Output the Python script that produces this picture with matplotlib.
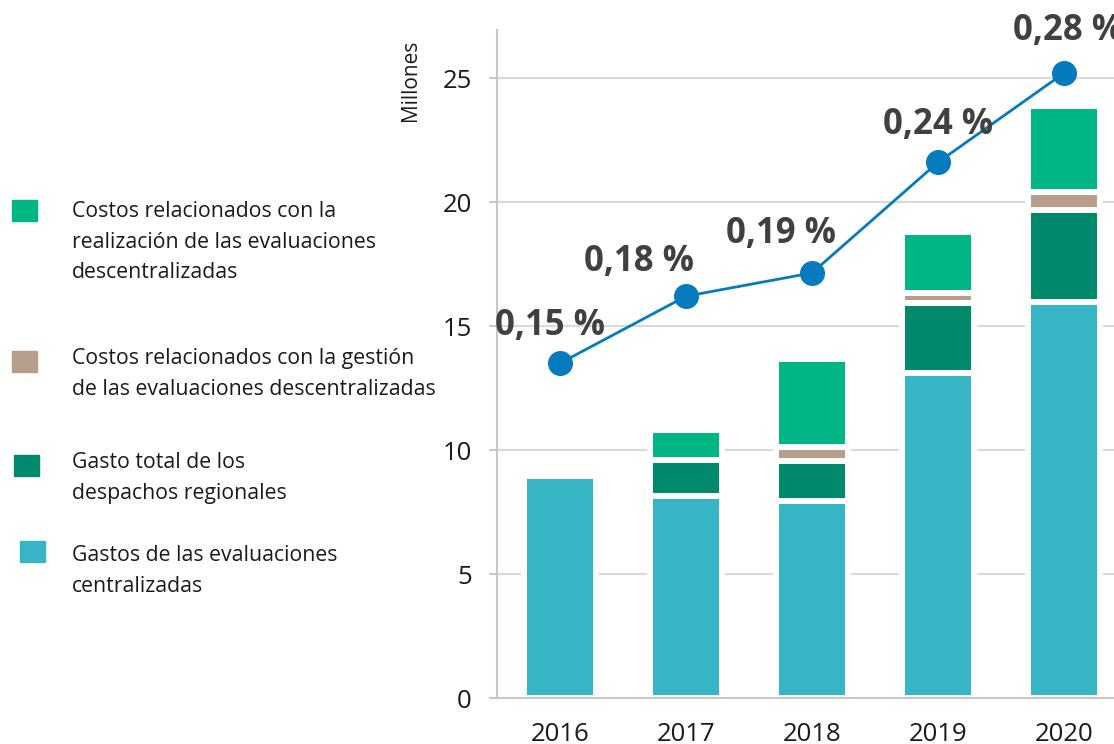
import numpy as np
import matplotlib.pyplot as plt
from matplotlib.patches import Rectangle

# data (millones)
years = ["2016", "2017", "2018", "2019", "2020"]
centralizadas = [8.97, 8.16, 7.96, 13.1, 15.96]
regionales = [0.0, 1.45, 1.6, 2.83, 3.72]
gestion = [0.0, 0.0, 0.58, 0.4, 0.71]
realizacion = [0.0, 1.2, 3.52, 2.46, 3.47]
line_vals = [13.5, 16.2, 17.14, 21.6, 25.2]
line_labels = ["0,15 %", "0,18 %", "0,19 %", "0,24 %", "0,28 %"]

legend_labels = [
    "Costos relacionados con la\nrealización de las evaluaciones\ndescentralizadas",
    "Costos relacionados con la gestión\nde las evaluaciones descentralizadas",
    "Gasto total de los\ndespachos regionales",
    "Gastos de las evaluaciones\ncentralizadas",
]

c_cent = "#37B5C5"
c_reg = "#00896A"
c_gest = "#B79E8B"
c_real = "#00B685"
c_line = "#067ABE"
grid_c = "#D9D9D9"

plt.rcParams['font.family'] = ['Open Sans', 'DejaVu Sans']

fig = plt.figure(figsize=(11.14, 7.44), dpi=100)
ax = fig.add_axes([497/1114, 1-698/744, 630/1114, 668/744])

x = np.arange(len(years))
w = 0.571
lw = 4.3
bottom = np.zeros(len(years))
for vals, col in [(centralizadas, c_cent), (regionales, c_reg), (gestion, c_gest), (realizacion, c_real)]:
    v = np.array(vals)
    mask = v > 0
    ax.bar(x[mask], v[mask], w, bottom=bottom[mask], color=col, edgecolor="white", linewidth=lw, zorder=2)
    bottom += v

ax.plot(x, line_vals, color=c_line, lw=2, marker="o", ms=17, zorder=4, clip_on=False)

# label offsets in points (dx, dy)
offsets = [(-7, 27), (-34, 25), (-22, 28), (0, 27), (3, 30)]
for xi, yi, lab, (dx, dy) in zip(x, line_vals, line_labels, offsets):
    ax.annotate(lab, (xi, yi), xytext=(dx, dy), textcoords="offset points",
                ha="center", va="center", fontsize=25, fontweight="bold",
                color="#404040", zorder=5, annotation_clip=False)

ax.set_xlim(-0.5, 4.5)
ax.set_ylim(0, 668/24.8)
ax.set_yticks([0, 5, 10, 15, 20, 25])
ax.set_xticks(x)
ax.set_xticklabels(years)
ax.yaxis.grid(True, color=grid_c, lw=1.5, zorder=0)
ax.set_axisbelow(True)
for s in ["top", "right"]:
    ax.spines[s].set_visible(False)
ax.spines["left"].set_color("#C8C8C8")
ax.spines["bottom"].set_color("#C8C8C8")
ax.spines["left"].set_linewidth(1.5)
ax.spines["bottom"].set_linewidth(1.5)
ax.tick_params(axis="y", length=6, width=1.5, color="#C8C8C8", pad=12, labelsize=18.5, labelcolor="#1a1a1a")
ax.tick_params(axis="x", length=0, pad=17, labelsize=18.5, labelcolor="#1a1a1a")

fig.text(410/1114, 1-80/744, "Millones", rotation=90, ha="center", va="center", fontsize=15, color="#1a1a1a")

# legend
leg_cols = [c_real, c_gest, c_reg, c_cent]
sq_pos = [(12, 200), (12, 351), (14, 455), (20, 541)]
txt_y = [201, 348, 452, 545]
for col, (sx, sy), ty, lab in zip(leg_cols, sq_pos, txt_y, legend_labels):
    fig.patches.append(Rectangle((sx/1114, 1-(sy+21)/744), 25/1114, 21/744,
                                 transform=fig.transFigure, color=col))
    fig.text(72/1114, 1-ty/744, lab, ha="left", va="top", fontsize=15.3,
             color="#1a1a1a", linespacing=1.6)

fig.savefig("out.png", dpi=100)
